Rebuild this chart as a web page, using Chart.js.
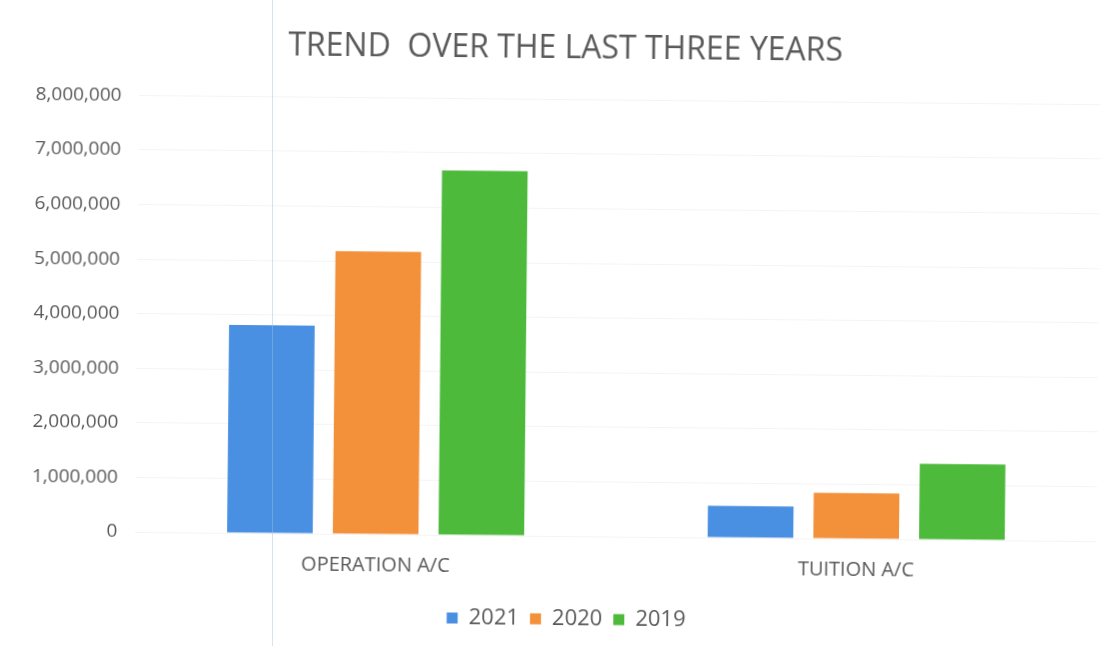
<!DOCTYPE html>
<html>
<head>
<meta charset="utf-8">
<script src="https://cdn.jsdelivr.net/npm/chart.js@4.4.1/dist/chart.umd.min.js"></script>
<style>
  html, body { margin: 0; padding: 0; background: #ffffff; }
  #sheet {
    position: relative;
    width: 1110px;
    height: 646px;
    overflow: hidden;
  }
  #wrap {
    position: absolute;
    left: 0;
    top: 0;
    width: 1110px;
    height: 646px;
    transform: rotate(0.55deg);
  }
  #page-rule {
    position: absolute;
    left: 272px;
    top: 0;
    width: 1px;
    height: 646px;
    background: rgba(160, 190, 230, 0.45);
  }
</style>
</head>
<body>
<div id="sheet">
  <div id="wrap">
    <canvas id="trendChart" width="1110" height="646"></canvas>
  </div>
  <div id="page-rule"></div>
</div>
<script>
// Account balances per year
const categories = ['OPERATION A/C', 'TUITION A/C'];
const years = ['2021', '2020', '2019'];
const values2021 = [3810000, 580000];
const values2020 = [5180000, 840000];
const values2019 = [6680000, 1390000];
const yTicks = [0, 1000000, 2000000, 3000000, 4000000, 5000000, 6000000, 7000000, 8000000];

const barColors = ['#4a90e2', '#f3903a', '#4dba3c'];
const textColor = '#5a5a5a';

Chart.defaults.font.family = "'Open Sans', 'DejaVu Sans', sans-serif";
Chart.defaults.color = textColor;

const seriesValues = [values2021, values2020, values2019];
const datasets = years.map((year, i) => ({
    label: year,
    data: seriesValues[i],
    backgroundColor: barColors[i],
    borderWidth: 0,
    barPercentage: 0.81,
    categoryPercentage: 0.66
}));

// Title and legend sit a little right of the canvas centre
const nudgeHeaders = {
    id: 'nudgeHeaders',
    afterLayout(chart) {
        if (chart.titleBlock) {
            chart.titleBlock.left += 6;
            chart.titleBlock.right += 6;
        }
        if (chart.legend) {
            chart.legend.left += 12;
            chart.legend.right += 12;
        }
    }
};

const ctx = document.getElementById('trendChart');
new Chart(ctx, {
    type: 'bar',
    data: {
        labels: categories,
        datasets: datasets
    },
    plugins: [nudgeHeaders],
    options: {
        responsive: false,
        animation: false,
        devicePixelRatio: 1,
        layout: {
            padding: { left: 15.5, right: 11.5, top: 18, bottom: 6 }
        },
        plugins: {
            title: {
                display: true,
                text: 'TREND  OVER THE LAST THREE YEARS',
                color: textColor,
                font: { size: 32, weight: 'normal' },
                padding: { top: 12, bottom: 31 }
            },
            legend: {
                position: 'bottom',
                labels: {
                    boxWidth: 11,
                    boxHeight: 11,
                    padding: 11,
                    color: textColor,
                    font: { size: 22 }
                }
            },
            tooltip: { enabled: false }
        },
        scales: {
            x: {
                grid: { display: false },
                border: { display: false },
                ticks: {
                    color: textColor,
                    font: { size: 20 },
                    padding: 11
                },
                afterFit: (scale) => {
                    scale.height += 7;
                }
            },
            y: {
                min: 0,
                max: 8000000,
                afterBuildTicks: (axis) => {
                    axis.ticks = yTicks.map(v => ({ value: v }));
                },
                grid: {
                    color: 'rgba(0, 0, 0, 0.045)',
                    drawTicks: false
                },
                border: { display: false },
                ticks: {
                    color: textColor,
                    font: { size: 19 },
                    padding: 18,
                    callback: (value) => Number(value).toLocaleString('en-US')
                }
            }
        }
    }
});
</script>
</body>
</html>
